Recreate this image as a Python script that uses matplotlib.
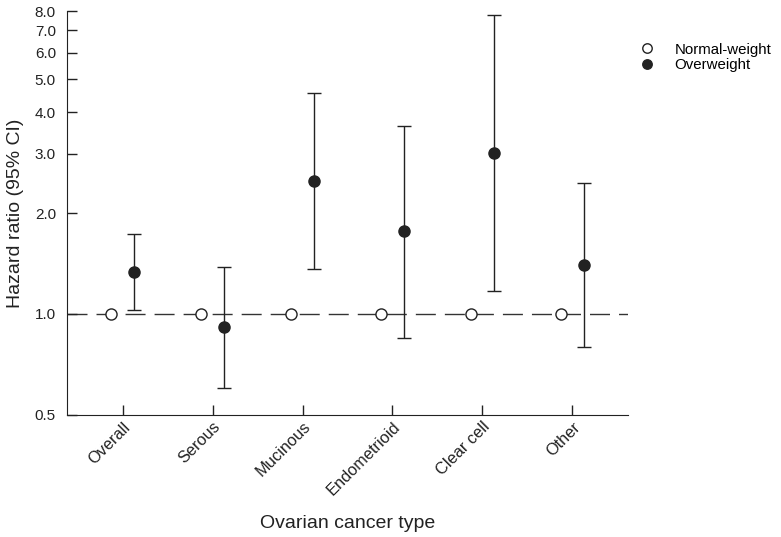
import matplotlib
matplotlib.use('Agg')
import numpy as np
from matplotlib import pyplot as plt
from matplotlib.ticker import FixedLocator, FixedFormatter, NullLocator

plt.rcParams['font.family'] = ['Liberation Sans', 'DejaVu Sans']

categories = ['Overall', 'Serous', 'Mucinous', 'Endometrioid', 'Clear cell', 'Other']
normal_hr = [1.0, 1.0, 1.0, 1.0, 1.0, 1.0]
over_hr = [1.33, 0.915, 2.49, 1.77, 3.02, 1.40]
over_low = [1.03, 0.60, 1.36, 0.85, 1.17, 0.80]
over_high = [1.73, 1.38, 4.56, 3.63, 7.78, 2.46]
yticks = [0.5, 1.0, 2.0, 3.0, 4.0, 5.0, 6.0, 7.0, 8.0]

ink = '#222222'
fig = plt.figure(figsize=(7.81, 5.37), dpi=100)
ax = fig.add_axes([0.0858, 0.2272, 0.804 - 0.0858, 0.9795 - 0.2272])

x = np.arange(len(categories))
off = 0.128

ax.axhline(1.0, color='#333333', lw=1.0, dashes=(14.4, 6.5), zorder=1)

over = np.array(over_hr)
err = [over - np.array(over_low), np.array(over_high) - over]
ax.errorbar(x + off, over, yerr=err, fmt='none', ecolor=ink,
            elinewidth=1.0, capsize=5, capthick=1.0, zorder=2)
ax.plot(x - off, normal_hr, 'o', mfc='white', mec=ink, mew=1.0,
        markersize=8, ls='none', label='Normal-weight', zorder=3)
ax.plot(x + off, over, 'o', color=ink, markersize=8, ls='none',
        label='Overweight', zorder=3)

ax.set_yscale('log')
ax.set_ylim(0.5, 8.0)
ax.set_xlim(-0.62, 5.62)
ax.yaxis.set_major_locator(FixedLocator(yticks))
ax.yaxis.set_major_formatter(FixedFormatter(['%.1f' % v for v in yticks]))
ax.yaxis.set_minor_locator(NullLocator())
ax.set_xticks(x)
ax.set_xticklabels(categories, rotation=45, ha='right', rotation_mode='anchor')

ax.tick_params(direction='in', length=7, width=1, labelsize=11.8, colors=ink)
ax.tick_params(axis='y', labelsize=11, pad=8)
ax.tick_params(axis='x', pad=3)
for s in ['top', 'right']:
    ax.spines[s].set_visible(False)
for s in ['left', 'bottom']:
    ax.spines[s].set_color(ink)

ax.set_ylabel('Hazard ratio (95% CI)', fontsize=14, color=ink, va='center')
ax.yaxis.set_label_coords(-0.091, 0.5)
ax.set_xlabel('Ovarian cancer type', fontsize=14, color=ink, va='top')
ax.xaxis.set_label_coords(0.5, -0.247)

ax.legend(loc='upper left', bbox_to_anchor=(0.988, 0.948),
          frameon=False, fontsize=10.8, handletextpad=0.85, labelspacing=0.1,
          markerscale=0.85, borderaxespad=0.3)

fig.savefig('out.png', dpi=100)
